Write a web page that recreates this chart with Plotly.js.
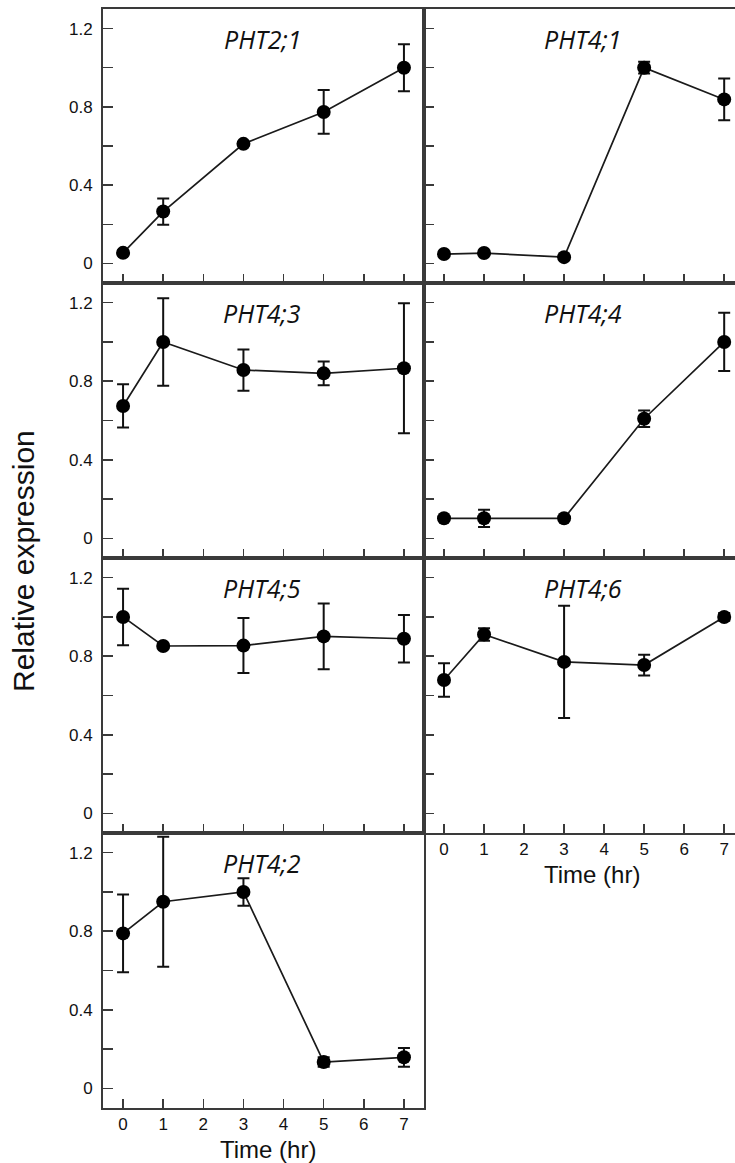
<!DOCTYPE html>
<html>
<head>
<meta charset="utf-8">
<script src="https://cdn.plot.ly/plotly-3.0.1.min.js"></script>
<style>html,body{margin:0;padding:0;background:#fff;}#chart{width:735px;height:1163px;}</style>
</head>
<body>
<div id="chart"></div>
<script>
// ---- data ----
const timeHr = [0, 1, 3, 5, 7];
const xTickVals = [0, 1, 2, 3, 4, 5, 6, 7];
const xTickText = ['0', '1', '2', '3', '4', '5', '6', '7'];
const yTickVals = [0, 0.2, 0.4, 0.6, 0.8, 1.0, 1.2];
const yTickText = ['0', '', '0.4', '', '0.8', '', '1.2'];

const geneNames = ['PHT2;1', 'PHT4;3', 'PHT4;5', 'PHT4;2', 'PHT4;1', 'PHT4;4', 'PHT4;6'];

const pht21 = [0.054, 0.265, 0.611, 0.774, 1.0];
const pht21Err = [0.012, 0.067, 0.01, 0.112, 0.12];
const pht43 = [0.674, 1.0, 0.857, 0.84, 0.866];
const pht43Err = [0.11, 0.223, 0.105, 0.061, 0.331];
const pht45 = [1.0, 0.852, 0.854, 0.901, 0.889];
const pht45Err = [0.144, 0.008, 0.14, 0.167, 0.121];
const pht42 = [0.789, 0.95, 1.0, 0.134, 0.158];
const pht42Err = [0.198, 0.331, 0.07, 0.024, 0.048];
const pht41 = [0.048, 0.053, 0.032, 1.0, 0.838];
const pht41Err = [0.008, 0.008, 0.008, 0.03, 0.107];
const pht44 = [0.102, 0.102, 0.102, 0.609, 1.0];
const pht44Err = [0.01, 0.044, 0.008, 0.042, 0.148];
const pht46 = [0.679, 0.911, 0.771, 0.755, 1.0];
const pht46Err = [0.085, 0.032, 0.286, 0.053, 0.02];

const seriesVals = [pht21, pht43, pht45, pht42, pht41, pht44, pht46];
const seriesErr = [pht21Err, pht43Err, pht45Err, pht42Err, pht41Err, pht44Err, pht46Err];

// ---- layout geometry ----
const W = 735, H = 1163;
const colX = [[103 / W, 424 / W], [424 / W, 1]];
const rowTops = [9, 283, 558, 833];
const rowBots = [283, 558, 833, 1108];
const panelPos = [[0, 0], [0, 1], [0, 2], [0, 3], [1, 0], [1, 1], [1, 2]]; // [col,row]
const lineColor = '#3a3a3a';
const tickFont = {family: 'Liberation Sans, Arial, sans-serif', size: 17, color: '#111'};

const traces = [];
const layout = {
  width: W, height: H,
  margin: {l: 0, r: 0, t: 0, b: 0},
  paper_bgcolor: '#fff', plot_bgcolor: '#fff',
  showlegend: false,
  annotations: []
};

panelPos.forEach((p, i) => {
  const n = i + 1;
  const sfx = n === 1 ? '' : String(n);
  const [col, row] = p;
  traces.push({
    x: timeHr, y: seriesVals[i],
    xaxis: 'x' + sfx, yaxis: 'y' + sfx,
    type: 'scatter', mode: 'lines+markers',
    line: {color: '#1a1a1a', width: 1.7},
    marker: {color: '#000', size: 14},
    error_y: {type: 'data', array: seriesErr[i], visible: true, color: '#111', thickness: 2, width: 6},
    hoverinfo: 'skip'
  });
  const showX = (col === 0 && row === 3) || (col === 1 && row === 2);
  layout['xaxis' + sfx] = {
    domain: colX[col],
    anchor: 'y' + sfx,
    range: col === 0 ? [-0.5, 7.5] : [-0.5, 7.27],
    tickmode: 'array', tickvals: xTickVals, ticktext: xTickText,
    ticks: 'inside', ticklen: 9, tickwidth: 1.5, tickcolor: lineColor,
    showticklabels: showX, tickfont: tickFont, ticklabelstandoff: 0,
    showline: true, linecolor: lineColor, linewidth: 2, mirror: true,
    showgrid: false, zeroline: false, fixedrange: true
  };
  layout['yaxis' + sfx] = {
    domain: [1 - rowBots[row] / H, 1 - rowTops[row] / H],
    anchor: 'x' + sfx,
    range: [-0.1, 1.3],
    tickmode: 'array', tickvals: yTickVals, ticktext: yTickText,
    ticks: 'inside', ticklen: 10, tickwidth: 1.5, tickcolor: lineColor,
    showticklabels: col === 0, tickfont: tickFont, ticklabelstandoff: 5,
    showline: true, linecolor: lineColor, linewidth: 2, mirror: col === 0,
    showgrid: false, zeroline: false, fixedrange: true
  };
  layout.annotations.push({
    xref: 'x' + sfx, yref: 'y' + sfx,
    x: 3.47, y: 1.145, xanchor: 'center', yanchor: 'middle',
    text: '<i>' + geneNames[i] + '</i>', showarrow: false,
    font: {family: 'Open Sans, sans-serif', size: 25, color: '#111'}
  });
});

const labelFont = {family: 'Liberation Sans, Arial, sans-serif', size: 24, color: '#111'};
layout.annotations.push({
  xref: 'paper', yref: 'paper', x: 23 / W, y: 1 - 561 / H,
  xanchor: 'center', yanchor: 'middle', textangle: -90,
  text: 'Relative expression', showarrow: false,
  font: {family: 'Liberation Sans, Arial, sans-serif', size: 30, color: '#111'}
});
layout.annotations.push({
  xref: 'paper', yref: 'paper', x: 268 / W, y: 1 - 1135 / H,
  xanchor: 'center', yanchor: 'top', borderpad: 0,
  text: 'Time (hr)', showarrow: false, font: labelFont
});
layout.annotations.push({
  xref: 'paper', yref: 'paper', x: 592 / W, y: 1 - 860 / H,
  xanchor: 'center', yanchor: 'top', borderpad: 0,
  text: 'Time (hr)', showarrow: false, font: labelFont
});

Plotly.newPlot('chart', traces, layout, {staticPlot: true, displayModeBar: false});
</script>
</body>
</html>
